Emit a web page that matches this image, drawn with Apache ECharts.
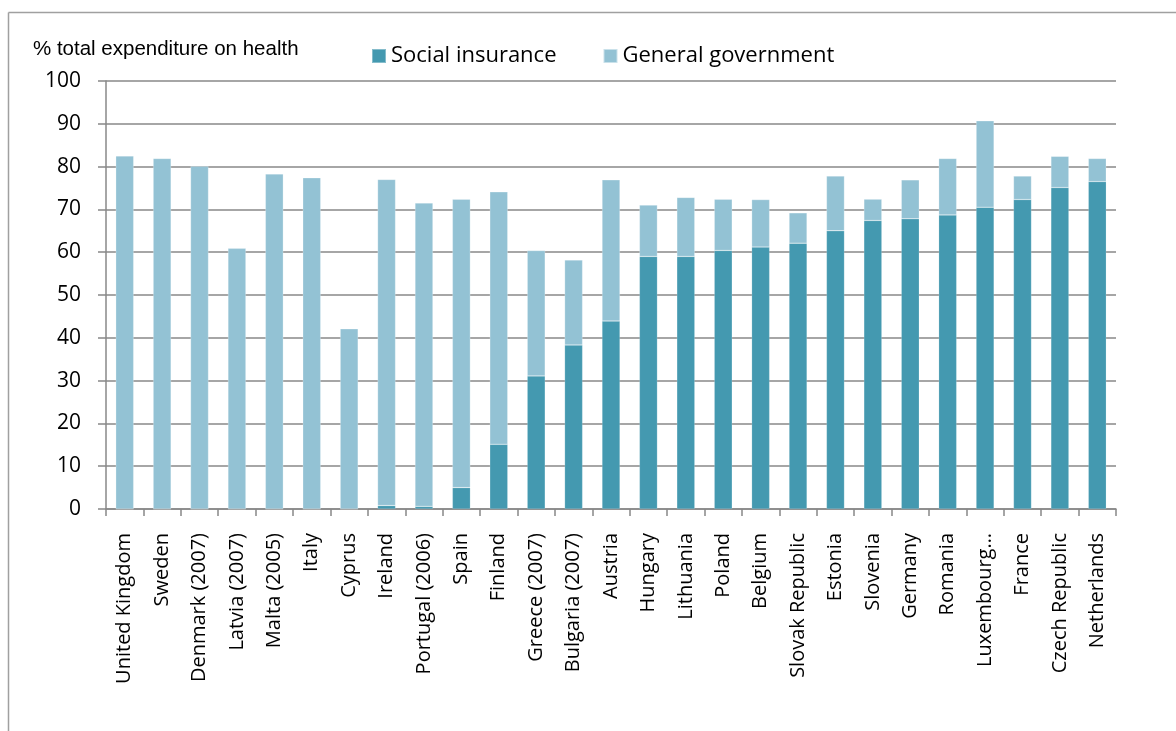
<!DOCTYPE html>
<html>
<head>
<meta charset="utf-8">
<script src="https://cdn.jsdelivr.net/npm/echarts@6/dist/echarts.min.js"></script>
<style>
html,body{margin:0;padding:0;background:#fff;}
#chart{width:1176px;height:731px;}
</style>
</head>
<body>
<div id="chart"></div>
<script>
const categories = ["United Kingdom","Sweden","Denmark (2007)","Latvia (2007)","Malta (2005)","Italy","Cyprus","Ireland","Portugal (2006)","Spain","Finland","Greece (2007)","Bulgaria (2007)","Austria","Hungary","Lithuania","Poland","Belgium","Slovak Republic","Estonia","Slovenia","Germany","Romania","Luxembourg…","France","Czech Republic","Netherlands"];
const socialInsurance = [0,0,0,0,0,0,0,0.8,0.6,5.0,15.1,31.1,38.3,43.9,59.0,59.0,60.4,61.2,62.1,65.0,67.4,67.8,68.7,70.5,72.3,75.1,76.5];
const generalGovernment = [82.5,81.9,80.1,60.9,78.3,77.4,42.1,76.2,70.9,67.4,59.0,29.3,19.9,33.0,12.0,13.8,12.0,11.1,7.1,12.8,5.0,9.1,13.2,20.2,5.5,7.3,5.4];
const yTicks = [0,10,20,30,40,50,60,70,80,90,100];

const chart = echarts.init(document.getElementById('chart'));
const labelFont = '"Open Sans", "Noto Sans", sans-serif';
chart.setOption({
  animation: false,
  backgroundColor: '#ffffff',
  title: {
    text: '% total expenditure on health',
    left: 28, top: 34,
    textStyle: {fontFamily: '"Liberation Sans", Arial, sans-serif', fontSize: 20.5, fontWeight: 'normal', color: '#000'}
  },
  legend: {
    left: 366, top: 40,
    itemWidth: 14, itemHeight: 14, itemGap: 46,
    icon: 'rect',
    textStyle: {fontFamily: labelFont, fontSize: 22, color: '#000'},
    data: ['Social insurance', 'General government']
  },
  graphic: [
    {type: 'line', shape: {x1: 8.5, y1: 12.5, x2: 1176, y2: 12.5}, style: {stroke: '#a0a0a0', lineWidth: 1.5}},
    {type: 'line', shape: {x1: 8.5, y1: 12.5, x2: 8.5, y2: 731}, style: {stroke: '#a0a0a0', lineWidth: 1.5}}
  ],
  grid: {left: 106, right: 60, top: 81, bottom: 222, containLabel: false},
  xAxis: {
    type: 'category',
    data: categories,
    axisLine: {lineStyle: {color: '#888', width: 1.5}},
    axisTick: {show: true, length: 7, lineStyle: {color: '#888', width: 1.5}},
    axisLabel: {rotate: 90, interval: 0, margin: 24, fontFamily: labelFont, fontSize: 20, color: '#000'}
  },
  yAxis: {
    type: 'value',
    min: 0, max: 100, interval: 10,
    axisLine: {show: true, lineStyle: {color: '#888', width: 1.5}},
    axisTick: {show: true, length: 8, lineStyle: {color: '#888', width: 1.5}},
    splitLine: {show: true, lineStyle: {color: '#888', width: 1.5}},
    axisLabel: {margin: 25, fontFamily: labelFont, fontSize: 21, color: '#000',
      formatter: function (v) { return yTicks.indexOf(v) >= 0 ? String(v) : ''; }}
  },
  series: [
    {name: 'Social insurance', type: 'bar', stack: 'total', data: socialInsurance, barWidth: '48%',
      itemStyle: {color: '#4499b0', borderColor: 'rgba(255,255,255,0.35)', borderWidth: 0.5}},
    {name: 'General government', type: 'bar', stack: 'total', data: generalGovernment, barWidth: '48%',
      itemStyle: {color: '#93c2d4', borderColor: 'rgba(255,255,255,0.5)', borderWidth: 0.5}}
  ]
});
</script>
</body>
</html>
